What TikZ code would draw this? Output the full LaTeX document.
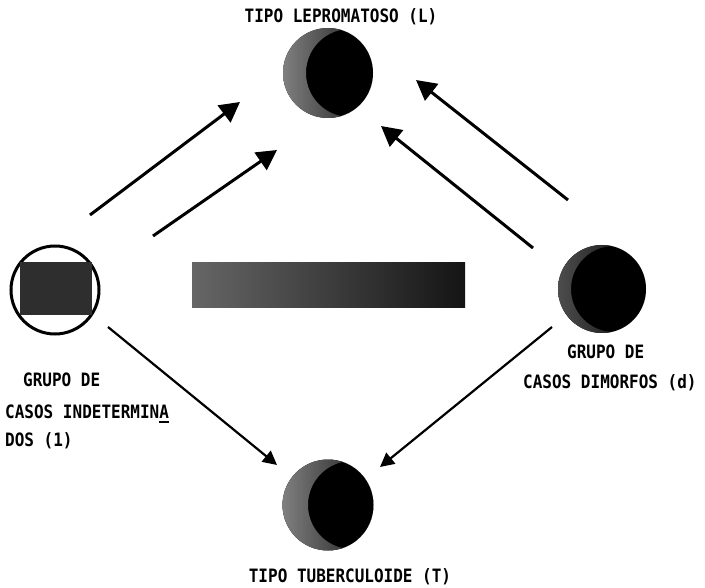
\documentclass[tikz,border=0pt]{standalone}
\usepackage{fontspec}
\newfontfamily\tw{DejaVu Sans Mono}
\usetikzlibrary{arrows.meta}
\begin{document}
\begin{tikzpicture}[x=1pt,y=-1pt,
  lbl/.style={font=\tw\bfseries\fontsize{16}{18}\selectfont, inner sep=0pt, text=black},
  bigarrow/.style={line width=3pt, -{Triangle[length=20pt,width=21pt]}},
  smallarrow/.style={line width=2.2pt, -{Triangle[length=14pt,width=14pt]}},
  ball/.style={fill=black},
  crescent/.style={even odd rule, left color=black!50, right color=black}]
\useasboundingbox[fill=white] (0,0) rectangle (705,588);

% top circle (L)
\node[circle, minimum size=90pt, inner sep=0pt, ball] (L) at (328,73) {};
\begin{scope}
  \clip (328,73) circle (45);
  \shade[crescent] (328,73) circle (45) (350,73) circle (44);
\end{scope}
\node[lbl] (Llab) at (341,17) {\scalebox{1}[1.15]{TIPO LEPROMATOSO (L)}};

% bottom circle (T)
\node[circle, minimum size=91pt, inner sep=0pt, ball] (T) at (328,505) {};
\begin{scope}
  \clip (328,505) circle (45.5);
  \shade[crescent] (328,505) circle (45.5) (352,505) circle (44);
\end{scope}
\node[lbl] (Tlab) at (350,577) {\scalebox{1}[1.15]{TIPO TUBERCULOIDE (T)}};

% right circle (d)
\node[circle, minimum size=88pt, inner sep=0pt, ball] (D) at (602,289) {};
\begin{scope}
  \clip (602,289) circle (44);
  \shade[even odd rule, left color=black!70, right color=black] (602,289) circle (44) (614,289) circle (43);
\end{scope}
\node[lbl, anchor=west] (Dlab1) at (567,352) {\scalebox{1}[1.15]{GRUPO DE}};
\node[lbl, anchor=west] (Dlab2) at (523,383) {\scalebox{1}[1.15]{CASOS DIMORFOS (d)}};

% left circle with rectangle (i)
\node[circle, minimum size=88pt, inner sep=0pt, draw=black, line width=3pt] (I) at (55,290) {};
\node[rectangle, minimum width=72pt, minimum height=53pt, inner sep=0pt, fill=black!82] (Irect) at (56,288.5) {};
\node[lbl, anchor=west] (Ilab1) at (23,380) {\scalebox{1}[1.15]{GRUPO DE}};
\node[lbl, anchor=west] (Ilab2) at (5,412) {\scalebox{1}[1.15]{CASOS INDETERMINA}};
\draw[line width=1.5pt] ([xshift=-10pt,yshift=-3pt]Ilab2.south east) -- ([yshift=-3pt]Ilab2.south east);
\node[lbl, anchor=west] (Ilab3) at (5,441) {\scalebox{1}[1.15]{DOS (1)}};

% middle bar
\shade[left color=black!60, right color=black!92] (192,263) rectangle (465,308);

% arrows
\coordinate (a1s) at (90,215);  \coordinate (a1e) at (240,102);
\coordinate (a2s) at (153,236); \coordinate (a2e) at (277,150);
\coordinate (a3s) at (568,200); \coordinate (a3e) at (416,80);
\coordinate (a4s) at (533,248); \coordinate (a4e) at (381,126);
\coordinate (a5s) at (108,327); \coordinate (a5e) at (277,465);
\coordinate (a6s) at (552,327); \coordinate (a6e) at (380,467);
\draw[bigarrow] (a1s) -- (a1e);
\draw[bigarrow] (a2s) -- (a2e);
\draw[bigarrow] (a3s) -- (a3e);
\draw[bigarrow] (a4s) -- (a4e);
\draw[smallarrow] (a5s) -- (a5e);
\draw[smallarrow] (a6s) -- (a6e);
\end{tikzpicture}
\end{document}
